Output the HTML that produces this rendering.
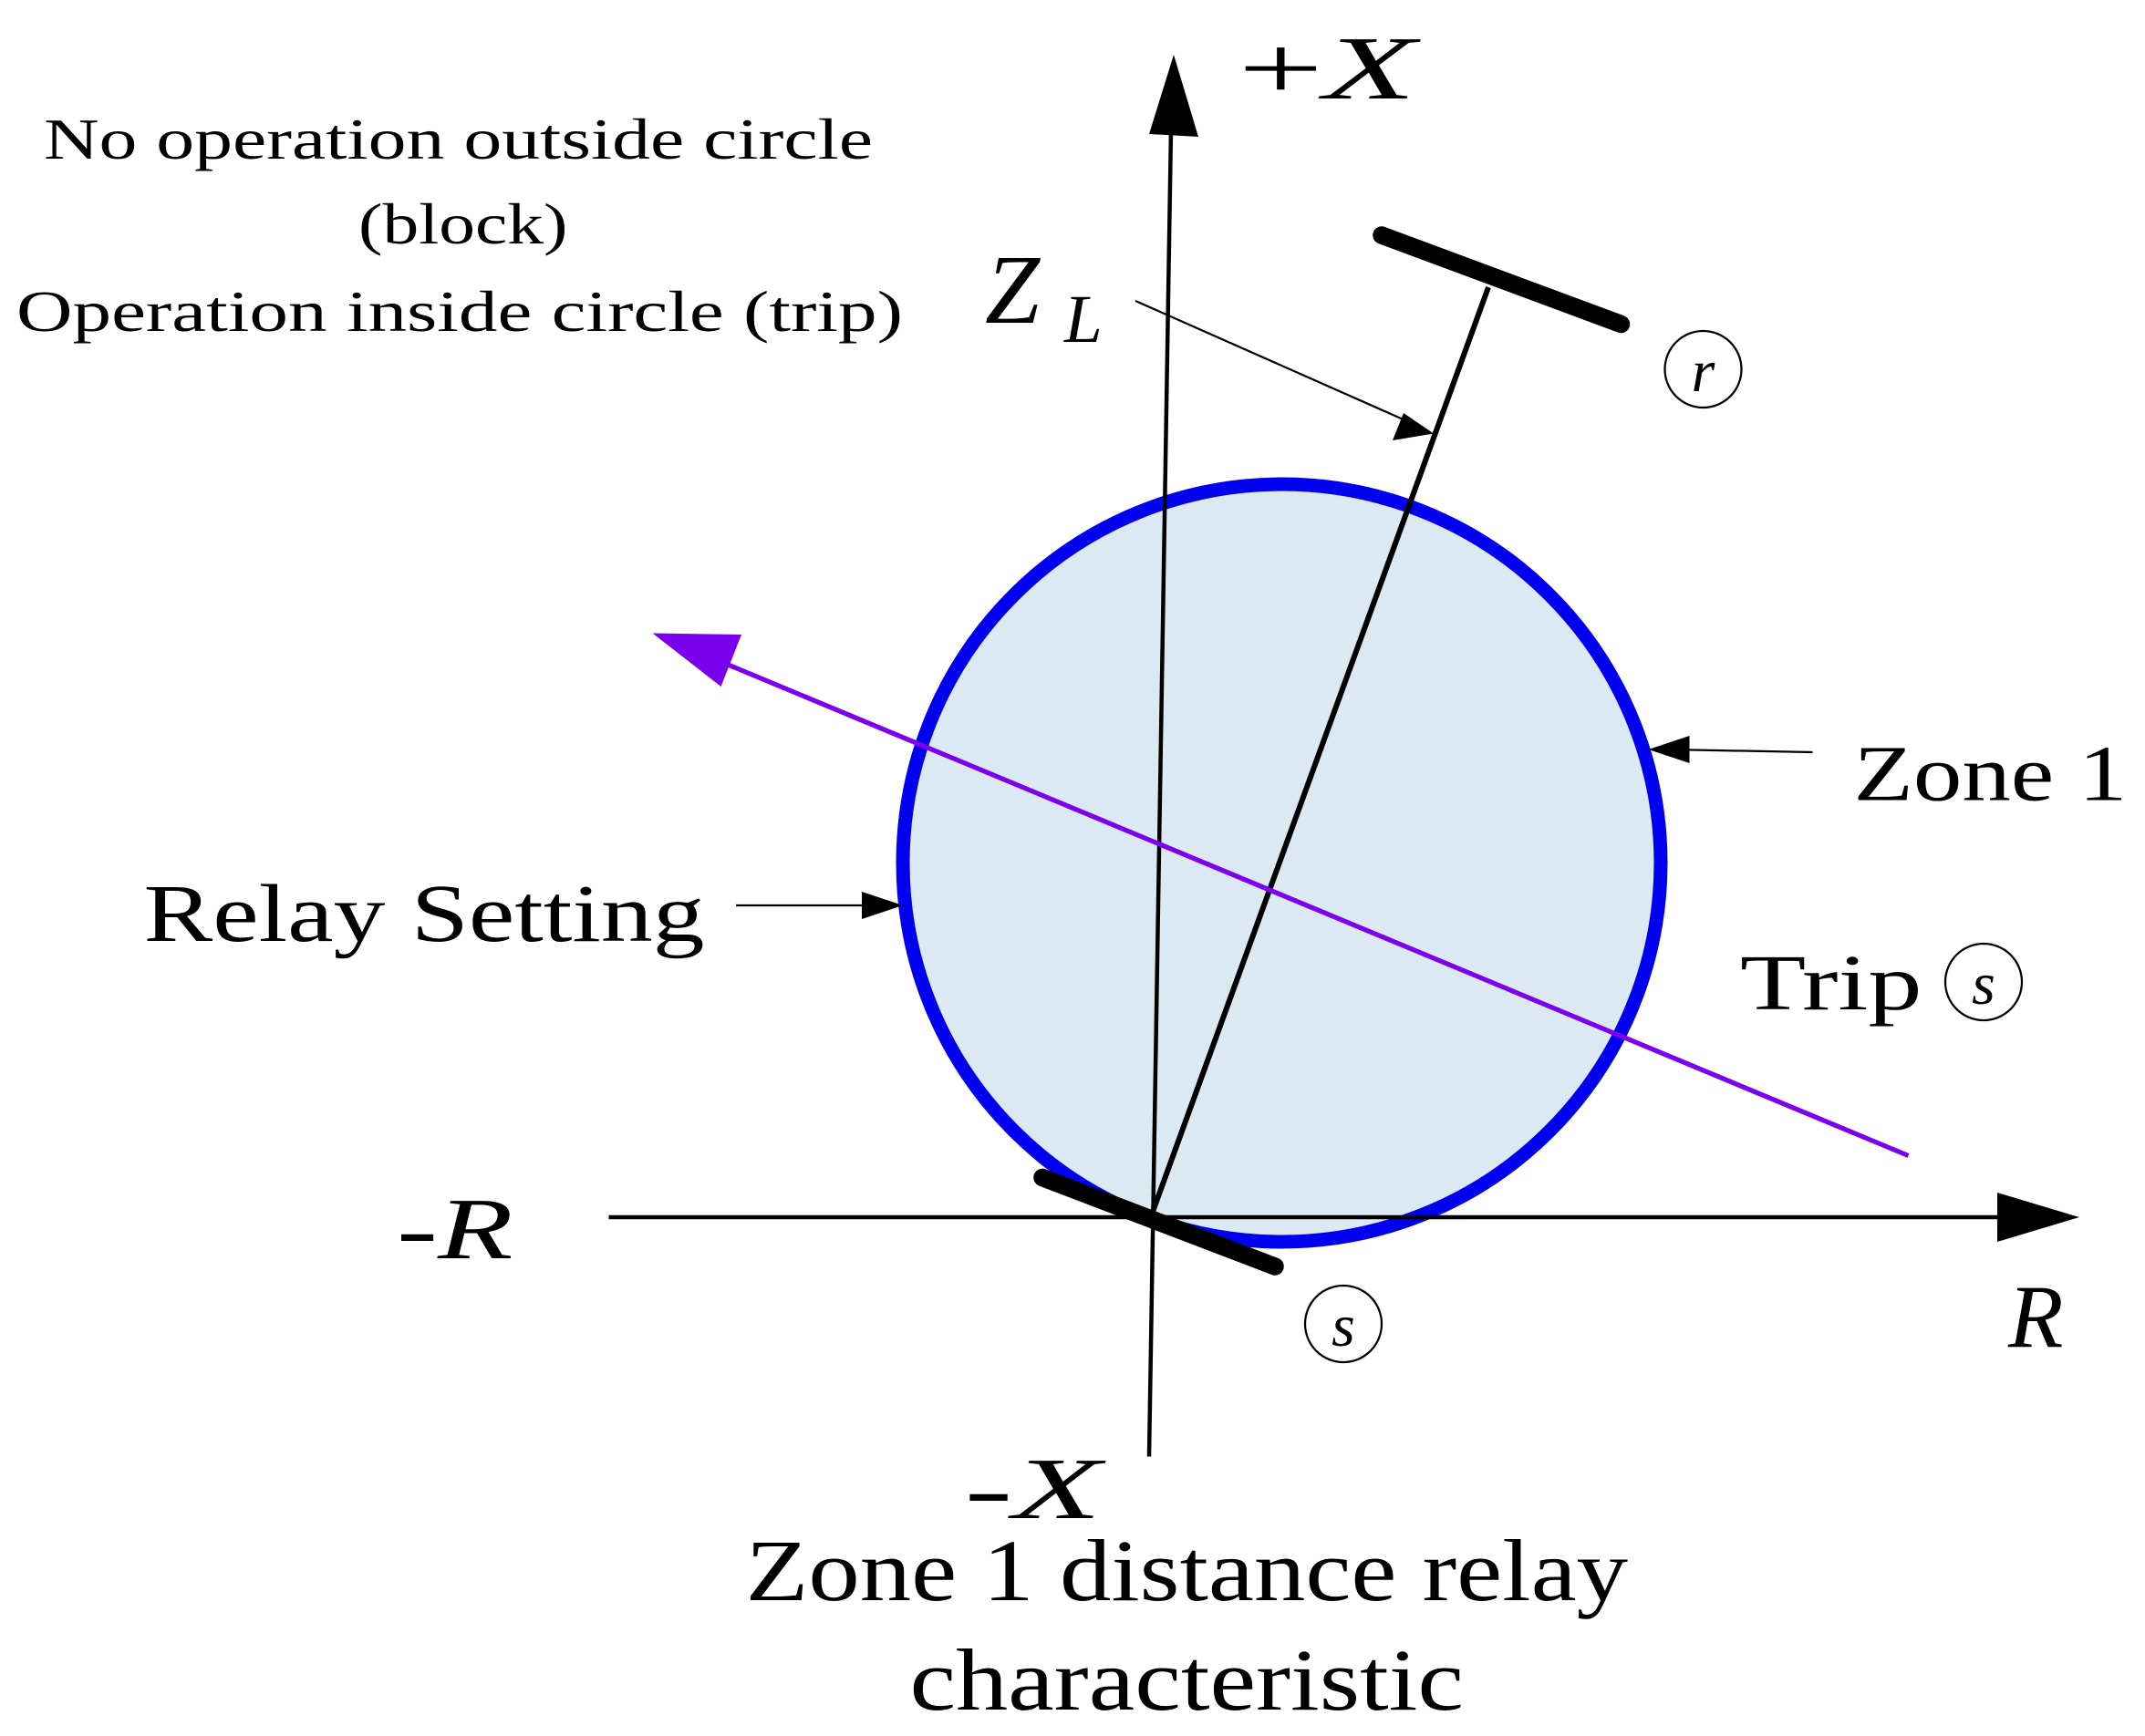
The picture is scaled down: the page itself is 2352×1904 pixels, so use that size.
<!DOCTYPE html>
<html><head><meta charset="utf-8"><style>
html,body{margin:0;padding:0;background:#fff}
svg{display:block}
text{font-family:"Liberation Serif",serif;fill:#000}
</style></head><body>
<svg width="2352" height="1904" viewBox="0 0 1568 1269.33" xmlns="http://www.w3.org/2000/svg">
<circle cx="937" cy="631" r="277" fill="#dbeaf2" stroke="#0000ee" stroke-width="10"/>
<line x1="840" y1="1065" x2="856" y2="95" stroke="#000" stroke-width="3"/>
<path d="M858,40 L876,100 L840,98 Z" fill="#000"/>
<line x1="445" y1="890" x2="1465" y2="890" stroke="#000" stroke-width="3"/>
<path d="M1520,890 L1460,872 L1460,908 Z" fill="#000"/>
<line x1="843" y1="885" x2="1088" y2="210" stroke="#000" stroke-width="4"/>
<line x1="1010" y1="172" x2="1185" y2="237" stroke="#000" stroke-width="13" stroke-linecap="round"/>
<line x1="762" y1="861" x2="932" y2="926" stroke="#000" stroke-width="13" stroke-linecap="round"/>
<line x1="1395" y1="845" x2="525" y2="483" stroke="#7a00ee" stroke-width="3.5"/>
<path d="M477,463 L542,464 L527,502 Z" fill="#7a00ee"/>
<line x1="830" y1="220" x2="1040" y2="313" stroke="#000" stroke-width="1.5"/>
<path d="M1048,317 L1018,322 L1026,302 Z" fill="#000"/>
<line x1="1325" y1="550" x2="1220" y2="548" stroke="#000" stroke-width="1.5"/>
<path d="M1205,548 L1235,538 L1235,558 Z" fill="#000"/>
<line x1="538" y1="662" x2="640" y2="662" stroke="#000" stroke-width="1.5"/>
<path d="M660,662 L630,652 L630,672 Z" fill="#000"/>
<text x="905" y="72" font-size="66" textLength="130" lengthAdjust="spacingAndGlyphs">+<tspan font-style="italic">X</tspan></text>
<text x="32" y="116" font-size="42" textLength="606" lengthAdjust="spacingAndGlyphs">No operation outside circle</text>
<text x="262" y="178" font-size="42" textLength="153" lengthAdjust="spacingAndGlyphs">(block)</text>
<text x="12" y="242" font-size="42" textLength="648" lengthAdjust="spacingAndGlyphs">Operation inside circle (trip)</text>
<text x="720" y="236" font-size="72" font-style="italic">Z</text>
<text x="778" y="250" font-size="50" font-style="italic">L</text>
<circle cx="1245" cy="270" r="28" fill="none" stroke="#000" stroke-width="1.5"/>
<text x="1245" y="286" font-size="44" font-style="italic" text-anchor="middle">r</text>
<text x="1355" y="585" font-size="58" textLength="200" lengthAdjust="spacingAndGlyphs">Zone 1</text>
<text x="105" y="688" font-size="60" textLength="410" lengthAdjust="spacingAndGlyphs">Relay Setting</text>
<text x="1272" y="738" font-size="58" textLength="133" lengthAdjust="spacingAndGlyphs">Trip</text>
<circle cx="1450" cy="718" r="28" fill="none" stroke="#000" stroke-width="1.5"/>
<text x="1450" y="734" font-size="44" font-style="italic" text-anchor="middle">s</text>
<text x="290" y="920" font-size="64" textLength="85" lengthAdjust="spacingAndGlyphs">-<tspan font-style="italic">R</tspan></text>
<text x="1468" y="985" font-size="66" font-style="italic">R</text>
<circle cx="982" cy="968" r="28" fill="none" stroke="#000" stroke-width="1.5"/>
<text x="982" y="984" font-size="44" font-style="italic" text-anchor="middle">s</text>
<text x="705" y="1110" font-size="64" textLength="100" lengthAdjust="spacingAndGlyphs">-<tspan font-style="italic">X</tspan></text>
<text x="545" y="1170" font-size="64" textLength="645" lengthAdjust="spacingAndGlyphs">Zone 1 distance relay</text>
<text x="665" y="1250" font-size="64" textLength="405" lengthAdjust="spacingAndGlyphs">characteristic</text>
</svg>
</body></html>
